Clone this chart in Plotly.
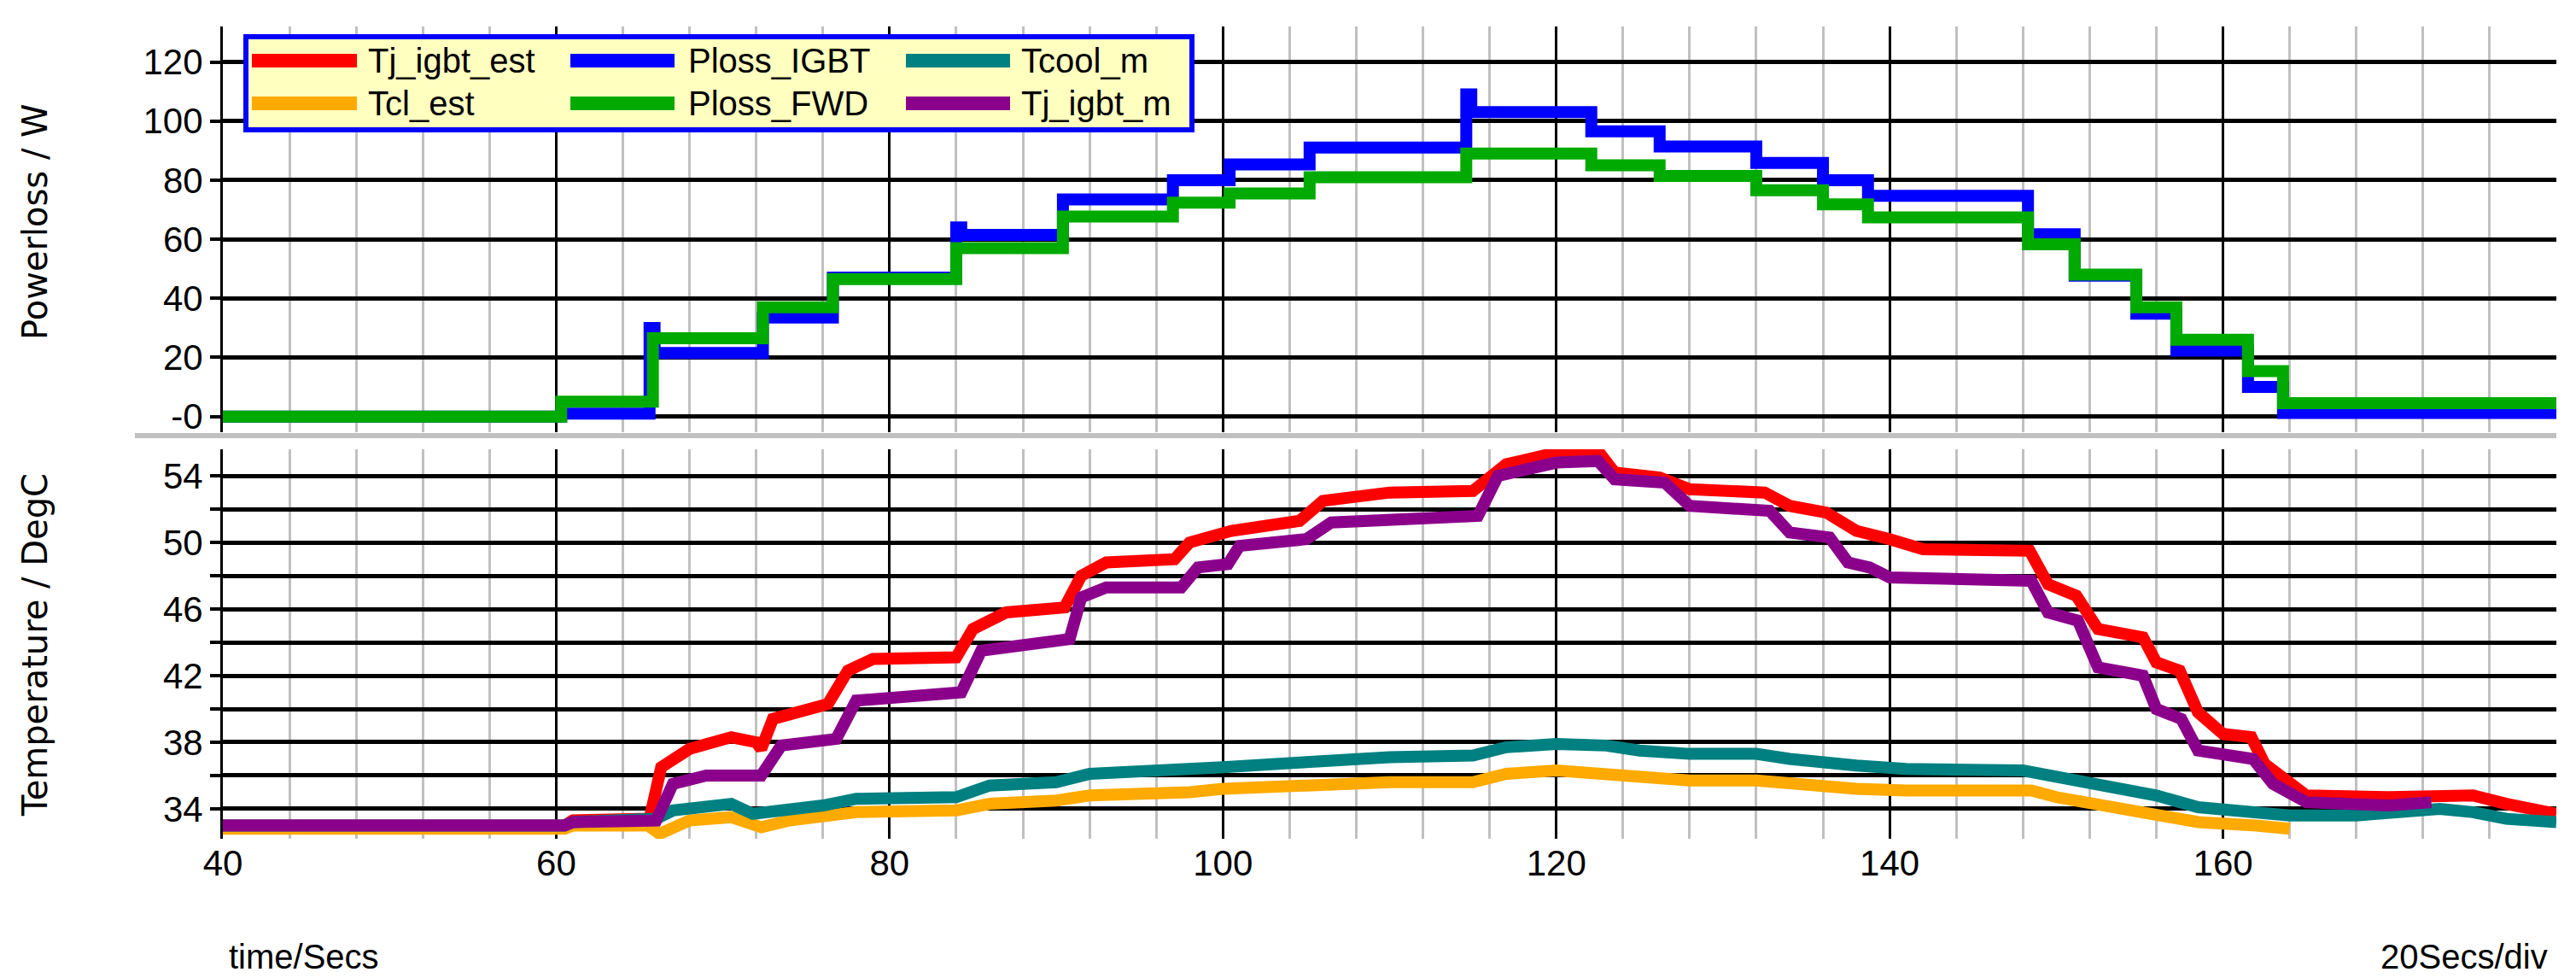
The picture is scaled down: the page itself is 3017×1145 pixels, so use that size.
import plotly.graph_objects as go

# ---- data ----
t_igbt = [40, 60.3, 65.6, 65.9, 72.4, 76.6, 84.0, 84.3, 90.4, 97.0, 100.4, 105.2, 114.6, 114.9, 122.1, 126.2, 132.0, 136.0, 138.7, 148.3, 151.1, 154.8, 157.2, 161.5, 163.6, 180]
p_igbt = [0, 1, 30, 21.5, 33.5, 47, 64, 61.5, 73.5, 80, 85.3, 91, 109, 103, 96.5, 91.4, 85.8, 80, 74.7, 61.7, 47.7, 34.8, 22.3, 10, 1.2, 1.2]
t_fwd = [40, 60.3, 65.8, 72.4, 76.6, 84.0, 90.4, 97.0, 100.4, 105.2, 114.6, 122.1, 126.2, 132.0, 136.0, 138.7, 148.3, 151.1, 154.8, 157.2, 161.5, 163.6, 180]
p_fwd = [0, 5, 26.5, 37, 46.5, 57, 67.7, 72.4, 75.5, 81, 89, 85, 81.4, 76.6, 71.8, 67.4, 58.3, 48, 37, 26, 15.4, 4.5, 4.5]

t_tjest = [40, 60.5, 61, 65.6, 66.3, 68, 70.5, 72.0, 72.3, 73, 76.3, 77.5, 79, 84.0, 85, 87, 90.5, 91.5, 93, 97.1, 98, 100.5, 104.6, 106, 110, 115.0, 117, 120, 122.5, 123.5, 126.2, 128, 132.5, 134, 136.2, 138, 140, 142, 148.4, 149.5, 151.2, 152.5, 155.2, 156, 157.4, 158.5, 160, 161.7, 162.5, 164, 165, 170, 175, 177, 180]
v_tjest = [33.0, 33.0, 33.3, 33.4, 36.5, 37.6, 38.3, 38.0, 37.6, 39.4, 40.3, 42.3, 43.0, 43.1, 44.8, 45.8, 46.1, 48.0, 48.8, 49.0, 50.0, 50.7, 51.3, 52.5, 53.0, 53.1, 54.7, 55.4, 55.5, 54.2, 53.9, 53.2, 53.0, 52.2, 51.8, 50.7, 50.2, 49.6, 49.5, 47.5, 46.8, 44.8, 44.3, 42.8, 42.3, 39.8, 38.5, 38.3, 36.7, 35.5, 34.8, 34.7, 34.8, 34.3, 33.7]

t_tjm = [40, 60.5, 61, 66.0, 67, 69, 72.3, 73.5, 76.8, 78, 84.3, 85.5, 90.8, 91.5, 93, 97.5, 98.5, 100.3, 101, 105, 106.5, 115.3, 116.5, 120, 122.5, 123.5, 126.5, 128, 132.8, 134, 136.4, 137.5, 138.8, 140, 148.5, 149.5, 151.3, 152.5, 155.2, 156, 157.5, 158.5, 161.8, 163, 165, 170, 172.5]
v_tjm = [33.0, 33.0, 33.2, 33.3, 35.5, 36.0, 36.0, 37.8, 38.2, 40.5, 41.0, 43.5, 44.2, 46.7, 47.3, 47.3, 48.5, 48.7, 49.8, 50.2, 51.2, 51.6, 54.0, 54.8, 54.9, 53.8, 53.6, 52.2, 51.9, 50.6, 50.3, 48.8, 48.5, 47.9, 47.7, 45.8, 45.3, 42.5, 42.0, 40.0, 39.4, 37.5, 37.0, 35.5, 34.4, 34.2, 34.4]

t_tcool = [40, 60.5, 61, 66, 67, 70.5, 71.8, 73, 76, 78, 84, 86, 90, 92, 98, 100, 105, 110, 115, 117, 120, 123, 125, 128, 132, 134, 138, 141, 148, 150, 153, 156, 158.5, 161, 164, 168, 173, 175, 177, 180]
v_tcool = [33.0, 33.0, 33.2, 33.4, 33.9, 34.3, 33.7, 33.8, 34.2, 34.6, 34.7, 35.4, 35.6, 36.1, 36.3, 36.5, 36.8, 37.1, 37.2, 37.7, 37.9, 37.8, 37.5, 37.3, 37.3, 37.0, 36.6, 36.4, 36.3, 35.9, 35.4, 34.8, 34.1, 33.9, 33.6, 33.6, 34.0, 33.8, 33.4, 33.2]

t_tcl = [40, 60.5, 61, 65.5, 66.2, 68, 70.5, 72.3, 74, 76, 78, 84, 86, 90, 92, 98, 100, 105, 110, 115, 117, 120, 125, 128, 132, 134, 138, 141, 148.5, 150, 153, 156, 158.5, 162, 164]
v_tcl = [32.8, 32.8, 33.0, 33.0, 32.5, 33.3, 33.5, 32.9, 33.3, 33.5, 33.8, 33.9, 34.3, 34.5, 34.8, 35.0, 35.2, 35.4, 35.6, 35.6, 36.1, 36.3, 36.0, 35.7, 35.7, 35.5, 35.2, 35.1, 35.1, 34.7, 34.2, 33.7, 33.2, 33.0, 32.8]

ptick_vals = [0, 20, 40, 60, 80, 100, 120]
ptick_text = ["-0", "20", "40", "60", "80", "100", "120"]
ttick_vals = [34, 38, 42, 46, 50, 54]
xtick_vals = [40, 60, 80, 100, 120, 140, 160]

legend_items = [("Tj_igbt_est", "#ff0000"), ("Ploss_IGBT", "#0000ff"), ("Tcool_m", "#008080"),
                ("Tcl_est", "#ffaa00"), ("Ploss_FWD", "#00aa00"), ("Tj_igbt_m", "#8b008b")]

C = dict(Tj_igbt_est="#ff0000", Ploss_IGBT="#0000ff", Tcool_m="#008080",
         Tcl_est="#ffaa00", Ploss_FWD="#00aa00", Tj_igbt_m="#8b008b")

W, H = 3017, 1145
L, R, T, B = 253, 31, 23, 171
PW, PH = W - L - R, H - T - B
def px(x): return (x - L) / PW
def py(y): return (H - B - y) / PH

NARROW = "Liberation Sans, Arial, sans-serif"

fig = go.Figure()
LW = 14
fig.add_trace(go.Scatter(x=t_igbt, y=p_igbt, mode="lines", line=dict(color=C["Ploss_IGBT"], width=LW, shape="hv"), xaxis="x", yaxis="y"))
fig.add_trace(go.Scatter(x=t_fwd, y=p_fwd, mode="lines", line=dict(color=C["Ploss_FWD"], width=LW, shape="hv"), xaxis="x", yaxis="y"))
fig.add_trace(go.Scatter(x=t_tjest, y=v_tjest, mode="lines", line=dict(color=C["Tj_igbt_est"], width=LW), xaxis="x2", yaxis="y2"))
fig.add_trace(go.Scatter(x=t_tcl, y=v_tcl, mode="lines", line=dict(color=C["Tcl_est"], width=LW), xaxis="x2", yaxis="y2"))
fig.add_trace(go.Scatter(x=t_tcool, y=v_tcool, mode="lines", line=dict(color=C["Tcool_m"], width=LW), xaxis="x2", yaxis="y2"))
fig.add_trace(go.Scatter(x=t_tjm, y=v_tjm, mode="lines", line=dict(color=C["Tj_igbt_m"], width=LW), xaxis="x2", yaxis="y2"))

tickfont = dict(family=NARROW, size=42, color="black")
xcommon = dict(range=[40, 180], tickvals=xtick_vals, showgrid=True, gridcolor="black", gridwidth=3,
               minor=dict(dtick=4, showgrid=True, gridcolor="#c0c0c0", gridwidth=3),
               zeroline=False, showline=False, tickfont=tickfont)
fig.update_layout(
    width=W, height=H, paper_bgcolor="white", plot_bgcolor="white",
    margin=dict(l=L, r=R, t=T, b=B), showlegend=False,
    xaxis=dict(domain=[0, 1], anchor="y", showticklabels=False, **xcommon),
    xaxis2=dict(domain=[0, 1], anchor="y2", ticks="", **xcommon),
    yaxis=dict(domain=[py(498), 1], range=[-5.3, 132], tickvals=ptick_vals, ticktext=ptick_text,
               showgrid=True, gridcolor="black", gridwidth=5, zeroline=False, ticks="outside",
               ticklen=12, tickwidth=4, tickcolor="black", tickfont=tickfont, showline=True, linecolor="black", linewidth=3),
    yaxis2=dict(domain=[0, py(518)], range=[32.2, 55.6], tickvals=ttick_vals,
                showgrid=True, gridcolor="black", gridwidth=5, zeroline=False, ticks="outside",
                ticklen=12, tickwidth=4, tickcolor="black", tickfont=tickfont,
                minor=dict(dtick=2, tick0=34, showgrid=True, gridcolor="black", gridwidth=5, ticks="outside", ticklen=12, tickcolor="black"),
                showline=True, linecolor="black", linewidth=3),
)

shapes = [dict(type="line", xref="paper", yref="paper", x0=px(150), x1=1, y0=py(502), y1=py(502),
               line=dict(color="#c0c0c0", width=6))]
ann = []
lx0, lx1, ly0, ly1 = 280, 1388, 35, 144
shapes.append(dict(type="rect", xref="paper", yref="paper", x0=px(lx0), x1=px(lx1), y0=py(ly1), y1=py(ly0),
                   fillcolor="#ffffc0", line=dict(color="#0000ff", width=6), layer="above"))
cols = [(287, 410, 421), (660, 782, 796), (1053, 1175, 1186)]
rows = [63, 113]
for i, (name, col) in enumerate(legend_items):
    r, c = divmod(i, 3)
    a, b, tx = cols[c]
    yy = rows[r]
    shapes.append(dict(type="line", xref="paper", yref="paper", x0=px(a), x1=px(b), y0=py(yy), y1=py(yy),
                       line=dict(color=col, width=16), layer="above"))
    ann.append(dict(xref="paper", yref="paper", x=px(tx), y=py(yy), text=name, showarrow=False,
                    xanchor="left", yanchor="middle", font=dict(family=NARROW, size=40, color="black")))
titlefont = dict(family="DejaVu Sans, Verdana, sans-serif", size=40, color="black")
ann.append(dict(xref="paper", yref="paper", x=px(33), y=py(252), text="Powerloss / W", textangle=-90,
                showarrow=False, xanchor="center", yanchor="middle", font=titlefont))
ann.append(dict(xref="paper", yref="paper", x=px(33), y=py(747), text="Temperature / DegC", textangle=-90,
                showarrow=False, xanchor="center", yanchor="middle", font=titlefont))
ann.append(dict(xref="paper", yref="paper", x=px(258), y=py(1112), text="time/Secs", showarrow=False,
                xanchor="left", yanchor="middle", font=dict(family=NARROW, size=40, color="black")))
ann.append(dict(xref="paper", yref="paper", x=px(2978), y=py(1112), text="20Secs/div", showarrow=False,
                xanchor="right", yanchor="middle", font=dict(family=NARROW, size=40, color="black")))
fig.update_layout(shapes=shapes, annotations=ann)
fig.write_html("out.html")
